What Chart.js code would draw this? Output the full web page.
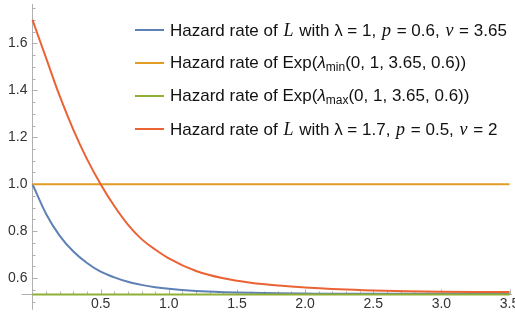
<!DOCTYPE html>
<html>
<head>
<meta charset="utf-8">
<script src="https://cdn.jsdelivr.net/npm/chart.js@4.4.1/dist/chart.umd.min.js"></script>
<style>
  html, body { margin: 0; padding: 0; background: #fff; }
  #wrap { position: relative; width: 515px; height: 320px; }
  #legend { position: absolute; left: 135px; top: 19px; font-family: "Liberation Sans", Arial, sans-serif; font-size: 17px; color: #111; }
  .row { position: relative; height: 33px; line-height: 22px; white-space: nowrap; }
  .sw { position: absolute; left: 0; top: 10px; width: 29px; height: 2px; }
  .txt { position: absolute; left: 35px; top: 0; }
  .m { font-family: "Liberation Serif", "Times New Roman", serif; font-style: italic; font-size: 18px; margin: 0 1px; }
  .li { font-style: italic; }
  sub { font-size: 12px; vertical-align: -3px; line-height: 0; }
</style>
</head>
<body>
<div id="wrap">
  <canvas id="chart" width="515" height="320"></canvas>
  <div id="legend"></div>
</div>
<script>
// x grid shared by the two curves
const xs = [0, 0.1, 0.2, 0.3, 0.4, 0.5, 0.6, 0.7, 0.8, 0.9, 1.0, 1.2, 1.4, 1.6, 1.8, 2.0, 2.25, 2.5, 2.75, 3.0, 3.25, 3.5];

// Hazard rate of L, lambda = 1, p = 0.6, v = 3.65
const hazardL1 = [1.000, 0.873, 0.780, 0.713, 0.664, 0.627, 0.603, 0.584, 0.571, 0.561, 0.554, 0.545, 0.540, 0.537, 0.535, 0.534, 0.533, 0.533, 0.533, 0.533, 0.533, 0.533];
// Hazard rate of L, lambda = 1.7, p = 0.5, v = 2
const hazardL2 = [1.700, 1.537, 1.375, 1.232, 1.107, 1.000, 0.907, 0.828, 0.766, 0.722, 0.684, 0.630, 0.599, 0.580, 0.568, 0.560, 0.552, 0.547, 0.544, 0.542, 0.541, 0.541];

// constant hazard rates of the exponentials
const lambdaMin = 1.0;
const lambdaMax = 0.530;
const xRange = [0, 3.5];

const xTicks = [0.5, 1.0, 1.5, 2.0, 2.5, 3.0, 3.5];
const yTicks = [0.6, 0.8, 1.0, 1.2, 1.4, 1.6];

const seriesLabels = [
    'Hazard rate of <span class="m">L</span> with λ = 1, <span class="m">p</span> = 0.6, <span class="m">v</span> = 3.65',
    'Hazard rate of Exp(<span class="li">λ</span><sub>min</sub>(0, 1, 3.65, 0.6))',
    'Hazard rate of Exp(<span class="li">λ</span><sub>max</sub>(0, 1, 3.65, 0.6))',
    'Hazard rate of <span class="m">L</span> with λ = 1.7, <span class="m">p</span> = 0.5, <span class="m">v</span> = 2'
];
const seriesColors = ['#5e81b5', '#e19c24', '#8fb032', '#eb6235'];

const pts = (xv, yv) => xv.map((x, i) => ({ x: x, y: yv[i] }));

// Mathematica style axes: lines through the origin, ticks pointing inward
const axesPlugin = {
    id: 'mathAxes',
    beforeDatasetsDraw(chart) {
        const ctx = chart.ctx;
        const xs_ = chart.scales.x, ys_ = chart.scales.y;
        const x0 = xs_.getPixelForValue(0);
        const y0 = ys_.getPixelForValue(ys_.min);
        ctx.save();
        ctx.strokeStyle = '#b0b0b0';
        ctx.lineWidth = 1;
        ctx.beginPath();
        ctx.moveTo(xs_.getPixelForValue(-0.08), y0);
        ctx.lineTo(xs_.right, y0);
        ctx.moveTo(x0, ys_.top);
        ctx.lineTo(x0, ys_.getPixelForValue(0.465));
        // x ticks
        for (let k = 1; k <= 35; k++) {
            const v = k / 10;
            const px = Math.round(xs_.getPixelForValue(v)) + 0.5;
            const len = (k % 5 === 0) ? 5 : 3;
            ctx.moveTo(px, y0);
            ctx.lineTo(px, y0 - len);
        }
        // y ticks
        for (let k = 10; k <= 35; k++) {
            const v = k / 20;
            const py = Math.round(ys_.getPixelForValue(v)) + 0.5;
            const len = (k % 4 === 0) ? 5 : 3;
            ctx.moveTo(x0, py);
            ctx.lineTo(x0 + len, py);
        }
        ctx.stroke();
        ctx.restore();
    }
};

const ctx = document.getElementById('chart').getContext('2d');
const chart = new Chart(ctx, {
    type: 'line',
    data: {
        datasets: [
            { label: 'L1', data: pts(xs, hazardL1), borderColor: seriesColors[0], order: 3 },
            { label: 'min', data: pts(xRange, [lambdaMin, lambdaMin]), borderColor: seriesColors[1], order: 2 },
            { label: 'max', data: pts(xRange, [lambdaMax, lambdaMax]), borderColor: seriesColors[2], order: 1 },
            { label: 'L2', data: pts(xs, hazardL2), borderColor: seriesColors[3], order: 0 }
        ].map(d => Object.assign(d, {
            borderWidth: 2,
            pointRadius: 0,
            fill: false,
            cubicInterpolationMode: 'monotone',
            clip: 6
        }))
    },
    options: {
        responsive: false,
        animation: false,
        layout: { padding: { top: 4, right: 3, left: 0, bottom: 0 } },
        plugins: { legend: { display: false }, tooltip: { enabled: false } },
        scales: {
            x: {
                type: 'linear',
                min: 0,
                max: 3.518,
                grid: { display: false, drawTicks: false },
                border: { display: false },
                afterBuildTicks: s => { s.ticks = xTicks.map(v => ({ value: v })); },
                afterFit: s => { s.height = 25.5; s.paddingLeft = 0; s.paddingRight = 0; },
                ticks: {
                    padding: 1,
                    maxRotation: 0,
                    autoSkip: false,
                    color: '#333',
                    font: { family: 'Liberation Sans', size: 14 },
                    callback: v => v.toFixed(1)
                }
            },
            y: {
                min: 0.530,
                max: 1.768,
                grid: { display: false, drawTicks: false },
                border: { display: false },
                afterBuildTicks: s => { s.ticks = yTicks.map(v => ({ value: v })); },
                afterFit: s => { s.width = 32.5; s.paddingTop = 0; s.paddingBottom = 0; },
                ticks: {
                    padding: 5,
                    autoSkip: false,
                    color: '#333',
                    font: { family: 'Liberation Sans', size: 14 },
                    callback: v => v.toFixed(1)
                }
            }
        }
    },
    plugins: [axesPlugin]
});

// legend in the upper right, Mathematica style
document.getElementById('legend').innerHTML = seriesLabels.map((lab, i) =>
    '<div class="row"><div class="sw" style="background:' + seriesColors[i] + '"></div>' +
    '<div class="txt">' + lab + '</div></div>'
).join('');
</script>
</body>
</html>
